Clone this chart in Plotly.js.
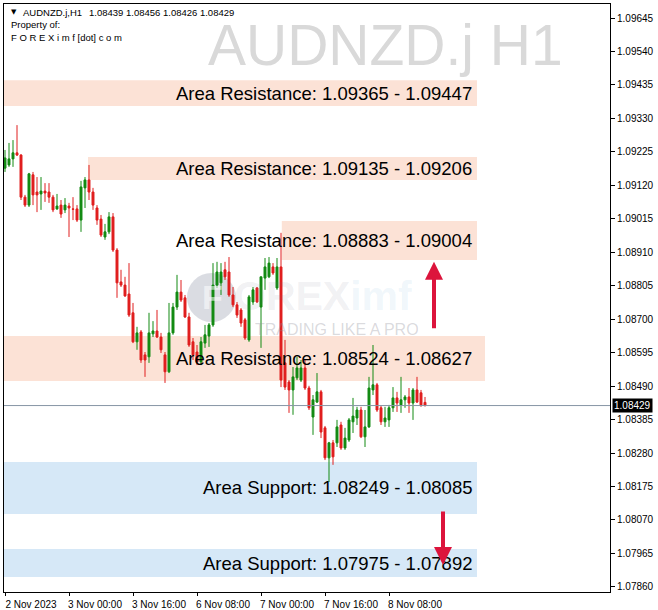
<!DOCTYPE html>
<html>
<head>
<meta charset="utf-8">
<script src="https://cdn.plot.ly/plotly-3.0.1.min.js"></script>
<style>html,body{margin:0;padding:0;background:#fff;}#chart{width:658px;height:610px;}</style>
</head>
<body>
<div id="chart"></div>
<script>
// ---- DATA (AUDNZD.j H1) ----
const openP = [1.09174,1.09184,1.09203,1.09222,1.09215,1.09083,1.09058,1.09153,1.09099,1.09093,
1.09102,1.09099,1.09083,1.09046,1.09058,1.09043,1.09055,1.09046,1.09046,1.09011,
1.09112,1.09137,1.09099,1.09049,1.09014,1.08958,1.08974,1.09021,1.08917,1.08817,
1.08807,1.08779,1.08720,1.08629,1.08660,1.08588,1.08582,1.08654,1.08663,1.08644,
1.08588,1.08535,1.08657,1.08738,1.08785,1.08767,1.08707,1.08629,1.08597,1.08566,
1.08625,1.08647,1.08682,1.08807,1.08814,1.08855,1.08848,1.08776,1.08745,1.08729,
1.08698,1.08635,1.08754,1.08798,1.08738,1.08829,1.08833,1.08864,1.08798,1.08864,
1.08563,1.08503,1.08478,1.08516,1.08509,1.08547,1.08484,1.08393,1.08440,1.08472,
1.08359,1.08265,1.08312,1.08312,1.08368,1.08296,1.08321,1.08378,1.08390,1.08415,
1.08331,1.08362,1.08478,1.08494,1.08422,1.08378,1.08384,1.08422,1.08453,1.08431,
1.08447,1.08456,1.08437,1.08478,1.08469,1.08439];
const highP = [1.09231,1.09253,1.09262,1.09309,1.09218,1.09090,1.09159,1.09162,1.09146,1.09146,
1.09127,1.09127,1.09090,1.09093,1.09074,1.09080,1.09065,1.09083,1.09058,1.09134,
1.09146,1.09184,1.09112,1.09058,1.09027,1.08999,1.09036,1.09033,1.08923,1.08855,
1.08833,1.08876,1.08751,1.08676,1.08666,1.08597,1.08720,1.08694,1.08729,1.08657,
1.08597,1.08751,1.08751,1.08839,1.08823,1.08776,1.08720,1.08641,1.08619,1.08644,
1.08682,1.08688,1.08876,1.08880,1.08876,1.08880,1.08895,1.08801,1.08754,1.08735,
1.08704,1.08776,1.08801,1.08801,1.08833,1.08892,1.08895,1.08876,1.08892,1.08971,
1.08635,1.08509,1.08550,1.08582,1.08572,1.08572,1.08491,1.08462,1.08531,1.08478,
1.08365,1.08315,1.08321,1.08384,1.08378,1.08359,1.08390,1.08453,1.08425,1.08425,
1.08415,1.08519,1.08619,1.08500,1.08428,1.08425,1.08431,1.08487,1.08472,1.08519,
1.08462,1.08484,1.08484,1.08519,1.08478,1.08456];
const lowP = [1.09162,1.09178,1.09178,1.09212,1.09074,1.09052,1.09052,1.09058,1.09036,1.09043,
1.09068,1.09065,1.09036,1.09043,1.09018,1.09033,1.08958,1.09011,1.09005,1.08974,
1.09049,1.09074,1.09043,1.08996,1.08958,1.08949,1.08967,1.08911,1.08767,1.08801,
1.08770,1.08707,1.08625,1.08604,1.08563,1.08519,1.08563,1.08644,1.08641,1.08594,
1.08500,1.08531,1.08651,1.08729,1.08754,1.08704,1.08613,1.08572,1.08556,1.08556,
1.08610,1.08613,1.08676,1.08798,1.08776,1.08823,1.08770,1.08738,1.08704,1.08676,
1.08635,1.08629,1.08745,1.08751,1.08610,1.08792,1.08829,1.08839,1.08792,1.08487,
1.08478,1.08406,1.08400,1.08509,1.08503,1.08478,1.08415,1.08337,1.08437,1.08327,
1.08258,1.08189,1.08243,1.08299,1.08290,1.08290,1.08315,1.08343,1.08368,1.08327,
1.08299,1.08359,1.08462,1.08409,1.08368,1.08362,1.08362,1.08409,1.08409,1.08406,
1.08422,1.08406,1.08384,1.08437,1.08425,1.08426];
const closeP = [1.09206,1.09203,1.09222,1.09215,1.09083,1.09058,1.09156,1.09090,1.09090,1.09102,
1.09096,1.09083,1.09043,1.09055,1.09030,1.09058,1.09049,1.09045,1.09011,1.09115,
1.09137,1.09099,1.09058,1.09011,1.08964,1.08974,1.09021,1.08917,1.08814,1.08807,
1.08773,1.08713,1.08629,1.08657,1.08572,1.08572,1.08657,1.08663,1.08644,1.08604,
1.08535,1.08657,1.08738,1.08785,1.08760,1.08707,1.08619,1.08588,1.08566,1.08629,
1.08651,1.08682,1.08807,1.08848,1.08848,1.08833,1.08776,1.08745,1.08713,1.08688,
1.08641,1.08770,1.08792,1.08754,1.08833,1.08864,1.08876,1.08845,1.08864,1.08509,
1.08487,1.08478,1.08519,1.08547,1.08547,1.08484,1.08422,1.08447,1.08472,1.08346,
1.08265,1.08312,1.08268,1.08362,1.08296,1.08327,1.08384,1.08396,1.08415,1.08331,
1.08362,1.08484,1.08494,1.08415,1.08378,1.08390,1.08422,1.08453,1.08437,1.08447,
1.08456,1.08437,1.08478,1.08440,1.08431,1.08429];

const tickIdx = [0, 16, 32, 48, 64, 80, 96];
const tickLabels = ["2 Nov 2023","3 Nov 00:00","3 Nov 16:00","6 Nov 08:00","7 Nov 00:00","7 Nov 16:00","8 Nov 08:00"];

const zoneLow   = [1.09369, 1.09137, 1.08886, 1.08506, 1.08089, 1.07891];
const zoneHigh  = [1.09450, 1.09209, 1.09008, 1.08647, 1.08252, 1.07979];
const zoneStart = [-0.5, 20.75, 69.2, -0.5, -0.5, -0.5];
const zoneEnd   = [118, 118, 118, 120, 118, 118];
const zoneKind  = ["res","res","res","res","sup","sup"];
const zoneText  = ["Area Resistance: 1.09365 - 1.09447","Area Resistance: 1.09135 - 1.09206",
  "Area Resistance: 1.08883 - 1.09004","Area Resistance: 1.08524 - 1.08627",
  "Area Support: 1.08249 - 1.08085","Area Support: 1.07975 - 1.07892"];

const lastPrice = 1.08429;
const headerSymbol = "AUDNZD.j,H1";
const headerOHLC = "1.08439 1.08456 1.08426 1.08429";

// ---- LAYOUT helpers (pixel -> paper) ----
const L = 4, R = 610, T = 4, B = 592;
const px = v => (v - L) / (R - L);
const py = v => (B - v) / (B - T);

const xIdx = closeP.map((_, i) => i);

const GREEN = "#128a12", RED = "#e01e1e";
const RES_FILL = "rgb(252,226,214)", SUP_FILL = "rgb(214,232,247)";
const ARROW = "#dc143c";

const trace = {
  type: "candlestick",
  x: xIdx, open: openP, high: highP, low: lowP, close: closeP,
  increasing: {line: {color: GREEN, width: 1}, fillcolor: GREEN},
  decreasing: {line: {color: RED, width: 1}, fillcolor: RED},
  whiskerwidth: 0,
  hoverinfo: "skip",
  showlegend: false
};

const shapes = [];
const annotations = [];

zoneLow.forEach((lo, i) => {
  shapes.push({type: "rect", layer: "below", xref: "x", yref: "y",
    x0: zoneStart[i], x1: zoneEnd[i], y0: lo, y1: zoneHigh[i],
    fillcolor: zoneKind[i] === "res" ? RES_FILL : SUP_FILL, line: {width: 0}});
});

// logo circle watermark
shapes.push({type: "circle", layer: "below", xref: "paper", yref: "paper",
  x0: px(187), x1: px(236), y0: py(322), y1: py(273),
  fillcolor: "rgba(150,155,172,0.35)", line: {width: 0}});

// current price line
shapes.push({type: "line", xref: "paper", yref: "y", x0: 0, x1: 1, y0: lastPrice, y1: lastPrice,
  line: {color: "#8796a5", width: 1}});

// big watermark
annotations.push({xref: "paper", yref: "paper", x: px(385), y: py(45), xanchor: "center", yanchor: "middle",
  text: "AUDNZD.j H1", showarrow: false,
  font: {family: "Liberation Sans, Arial, sans-serif", size: 57, color: "#d9d9d9"}});

// logo text
annotations.push({xref: "paper", yref: "paper", x: px(232), y: py(296), xanchor: "left", yanchor: "middle",
  height: 34,
  text: "<b><span style='color:rgba(120,125,140,0.33)'>OREX</span><span style='color:rgba(110,175,220,0.33)'>imf</span></b>",
  showarrow: false, font: {family: "Liberation Sans, Arial, sans-serif", size: 41, color: "rgba(120,125,140,0.33)"}});
annotations.push({xref: "paper", yref: "paper", x: px(337), y: py(329), xanchor: "center", yanchor: "middle",
  height: 17,
  text: "TRADING LIKE A PRO", showarrow: false,
  font: {family: "Liberation Sans, Arial, sans-serif", size: 16, color: "rgba(140,140,150,0.33)"}});
annotations.push({xref: "paper", yref: "paper", x: px(212), y: py(297), xanchor: "center", yanchor: "middle",
  text: "<b>F</b>", showarrow: false,
  font: {family: "Liberation Sans, Arial, sans-serif", size: 34, color: "rgba(255,255,255,0.55)"}});

// zone labels
zoneLow.forEach((lo, i) => {
  annotations.push({xref: "x", yref: "y", x: 117.25, y: (lo + zoneHigh[i]) / 2,
    xanchor: "right", yanchor: "middle", text: zoneText[i], showarrow: false,
    font: {family: "Liberation Sans, Arial, sans-serif", size: 18.5, color: "#000"}});
});

// arrows
annotations.push({xref: "x", yref: "y", x: 107.25, y: 1.08880, ax: 0, ay: 68, axref: "pixel", ayref: "pixel",
  showarrow: true, arrowhead: 2, arrowsize: 0.9, arrowwidth: 4, arrowcolor: ARROW, text: ""});
annotations.push({xref: "x", yref: "y", x: 109.5, y: 1.07929, ax: 0, ay: -55, axref: "pixel", ayref: "pixel",
  showarrow: true, arrowhead: 2, arrowsize: 0.9, arrowwidth: 4, arrowcolor: ARROW, text: ""});

// header
const HF = "Liberation Sans, Arial, sans-serif";
annotations.push({xref: "paper", yref: "paper", x: px(9), y: py(12), xanchor: "left", yanchor: "middle",
  text: "▼", showarrow: false, font: {family: "DejaVu Sans", size: 7, color: "#000"}});
annotations.push({xref: "paper", yref: "paper", x: px(21), y: py(12), xanchor: "left", yanchor: "middle",
  text: headerSymbol, showarrow: false, font: {family: HF, size: 9.5, color: "#000"}});
annotations.push({xref: "paper", yref: "paper", x: px(87), y: py(12), xanchor: "left", yanchor: "middle",
  text: headerOHLC, showarrow: false, font: {family: HF, size: 9.5, color: "#000"}});
annotations.push({xref: "paper", yref: "paper", x: px(9), y: py(25), xanchor: "left", yanchor: "middle",
  text: "Property of:", showarrow: false, font: {family: HF, size: 9.5, color: "#000"}});
annotations.push({xref: "paper", yref: "paper", x: px(9), y: py(38), xanchor: "left", yanchor: "middle",
  text: "F O R E X i m f [dot] c o m", showarrow: false, font: {family: HF, size: 9.5, color: "#000"}});

// last price tag on axis
annotations.push({xref: "paper", yref: "y", x: 1, y: lastPrice, xanchor: "left", yanchor: "middle", xshift: 2,
  text: lastPrice.toFixed(5), showarrow: false, bgcolor: "#000", borderpad: 1,
  font: {family: HF, size: 10, color: "#fff"}});

const layout = {
  width: 658, height: 610,
  margin: {l: L, r: 658 - R, t: T, b: 610 - B, pad: 0},
  paper_bgcolor: "#fff", plot_bgcolor: "#fff",
  showlegend: false, hovermode: false, dragmode: false,
  boxgap: 0.3,
  xaxis: {
    type: "linear", range: [-0.25, 151.25], rangeslider: {visible: false},
    showgrid: false, zeroline: false, showline: true, mirror: true, linecolor: "#000", linewidth: 1,
    tickmode: "array", tickvals: tickIdx, ticktext: tickLabels,
    ticks: "outside", ticklen: 3, tickcolor: "#000", ticklabelshift: 26,
    tickfont: {family: HF, size: 10, color: "#000"}, fixedrange: true
  },
  yaxis: {
    side: "right", range: [1.07844, 1.09689],
    tick0: 1.07860, dtick: 0.00105, tickformat: ".5f",
    showgrid: false, zeroline: false, showline: true, mirror: true, linecolor: "#000", linewidth: 1,
    ticks: "outside", ticklen: 4, tickcolor: "#000",
    tickfont: {family: HF, size: 10, color: "#000"}, fixedrange: true
  },
  shapes: shapes,
  annotations: annotations
};

Plotly.newPlot("chart", [trace], layout, {displayModeBar: false, staticPlot: true});
</script>
</body>
</html>
